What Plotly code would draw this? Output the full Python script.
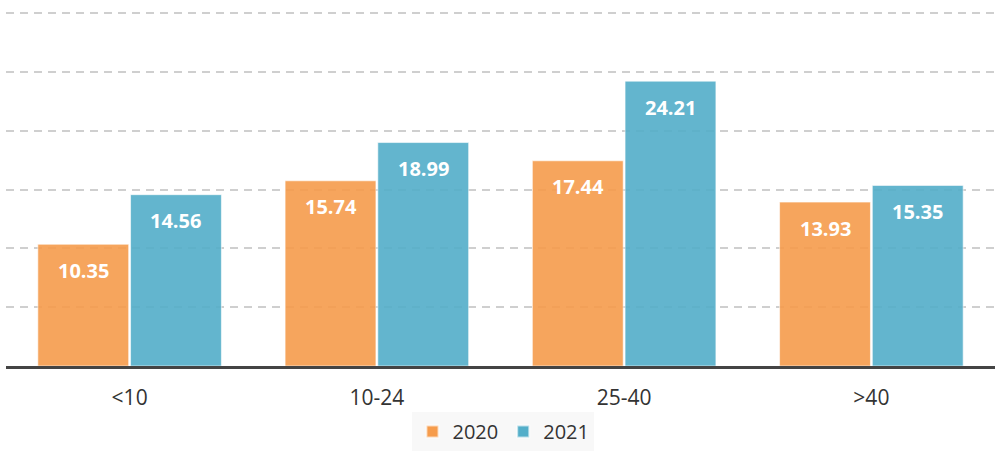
import plotly.graph_objects as go

categories = ["<10", "10-24", "25-40", ">40"]
series_names = ["2020", "2021"]
values_2020 = [10.35, 15.74, 17.44, 13.93]
values_2021 = [14.56, 18.99, 24.21, 15.35]
y_ticks = [0, 5, 10, 15, 20, 25, 30]

W, H = 995, 451
ML, MR, MT, MB = 6, 0, 9, 85
BARGAP = 0.25
colors = ["rgb(246,156,76)", "rgb(83,174,201)"]
FONT = "Open Sans"

fig = go.Figure()
for name, vals, col in zip(series_names, [values_2020, values_2021], colors):
    fig.add_trace(go.Bar(
        x=categories, y=vals, name=name,
        marker=dict(color=col, opacity=0.9,
                    line=dict(color="rgba(255,255,255,0.6)", width=1)),
        hoverinfo="x+y",
    ))

# data labels inside bars near the top
plot_w = W - ML - MR
cat_w = plot_w / len(categories)
slot = cat_w * (1 - BARGAP) / 2
for k, vals in enumerate([values_2020, values_2021]):
    shift = (k - 0.5) * slot
    for c, v in zip(categories, vals):
        fig.add_annotation(
            x=c, y=v, xref="x", yref="y", text=f"{v:.2f}",
            showarrow=False, xshift=shift, yshift=-26, yanchor="middle",
            font=dict(family=FONT, size=20, color="white", weight="bold"),
        )

fig.update_layout(
    width=W, height=H,
    margin=dict(l=ML, r=MR, t=MT, b=MB, pad=0, autoexpand=False),
    paper_bgcolor="white", plot_bgcolor="white",
    barmode="group", bargap=BARGAP, bargroupgap=0.02,
    font=dict(family=FONT, color="#333333"),
    showlegend=True,
    legend=dict(orientation="h", x=0.503, xanchor="center",
                yref="container", y=0.0, yanchor="bottom",
                bgcolor="#f8f8f8", font=dict(size=20, color="#333333"),
                itemsizing="constant", itemwidth=30),
    xaxis=dict(showline=True, linecolor="#444444", linewidth=3, automargin=False,
               showgrid=False, ticks="", tickfont=dict(size=21, color="#333333"),
               ticklabelstandoff=11, fixedrange=True),
    yaxis=dict(range=[0, 30.34], tickvals=y_ticks, showticklabels=False, automargin=False,
               showgrid=True, gridcolor="#cfcfcf", gridwidth=2, griddash="8px,6px",
               zeroline=False, showline=False, fixedrange=True),
)

fig.write_html("out.html", config={"displayModeBar": False},
               post_script="document.body.style.margin='0px';")
